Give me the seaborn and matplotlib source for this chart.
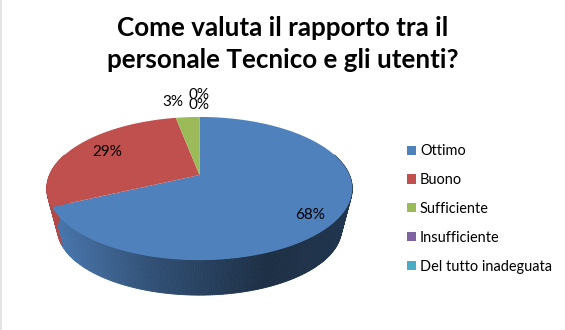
import matplotlib
matplotlib.use("Agg")
import matplotlib.pyplot as plt
import numpy as np
import seaborn as sns
from matplotlib.patches import Patch

categories = ["Ottimo", "Buono", "Sufficiente", "Insufficiente", "Del tutto inadeguata"]
values = [68, 29, 3, 0, 0]
colors = ["#4f81bd", "#c0504d", "#9bbb59", "#8064a2", "#4bacc6"]
title = "Come valuta il rapporto tra il\npersonale Tecnico e gli utenti?"

# pie geometry in pixels (perspective disc)
CX, CY = 199.5, 175.0
A, B, K = 150.0, 69.0, 0.189
DEPTH, SCALE = 41.0, 0.93

sns.set_theme(style="white")
plt.rcParams["font.family"] = ["Lato", "DejaVu Sans"]


def project(frac, r=1.0, scale=1.0, shift=0.0):
    """Map a clockwise-from-top pie fraction onto the tilted disc."""
    t = 2 * np.pi * np.asarray(frac)
    u, v = r * np.sin(t), r * np.cos(t)
    w = 1 + K * v
    return CX + scale * A * u / w, CY - scale * B * v / w + shift


def wall_shade(x):
    return np.interp(x, [52, 150, 270, 352], [0.92, 0.62, 0.36, 0.42])


fig, ax = plt.subplots(figsize=(5.65, 3.3), dpi=100)
ax.set_position([0, 0, 1, 1])
ax.set_xlim(0, 565)
ax.set_ylim(330, 0)
ax.axis("off")

palette = sns.color_palette(colors)
total = sum(values)
edges = np.cumsum([0] + values) / total

# side wall first, strip by strip along the front of the disc
for i, col in enumerate(palette):
    start, end = edges[i], edges[i + 1]
    if end <= start:
        continue
    fr = np.arange(start, end + 0.002, 0.002)
    for f0, f1 in zip(fr[:-1], fr[1:]):
        if not 0.2 < (f0 + f1) / 2 < 0.8:
            continue
        x0, y0 = project(f0)
        x1, y1 = project(f1)
        x2, y2 = project(f1, scale=SCALE, shift=DEPTH)
        x3, y3 = project(f0, scale=SCALE, shift=DEPTH)
        shade = np.array(col) * wall_shade((x0 + x1) / 2)
        ax.fill([x0, x1, x2, x3], [y0, y1, y2, y3], color=shade, lw=0.6, zorder=1)

# top face
for i, col in enumerate(palette):
    start, end = edges[i], edges[i + 1]
    if end <= start:
        continue
    xs, ys = project(np.linspace(start, end, 200))
    ax.fill(np.r_[CX, xs], np.r_[CY, ys], color=col, lw=0, zorder=2)

# data labels
label_pos = [(310, 215), (107, 152), (173, 102), (199, 95), (199, 105)]
for v, (lx, ly) in zip(values, label_pos):
    ax.text(lx, ly, f"{v}%", ha="center", va="center", fontsize=11, color="black", zorder=3)

ax.text(283, 44, title, ha="center", va="center", fontsize=18.7, fontweight="bold",
        color="black", linespacing=1.36)

handles = [Patch(facecolor=c, edgecolor="none", label=n) for c, n in zip(palette, categories)]
ax.legend(handles=handles, loc="center left", bbox_to_anchor=(407, 209),
          bbox_transform=ax.transData, frameon=False, fontsize=10.45, labelspacing=1.02,
          handlelength=0.6, handleheight=0.6, handletextpad=0.3, borderpad=0, borderaxespad=0,
          labelcolor="black")

ax.axvline(0.5, color="#e4e4e4", lw=1.5)

fig.savefig("out.png", dpi=100, facecolor="white")
